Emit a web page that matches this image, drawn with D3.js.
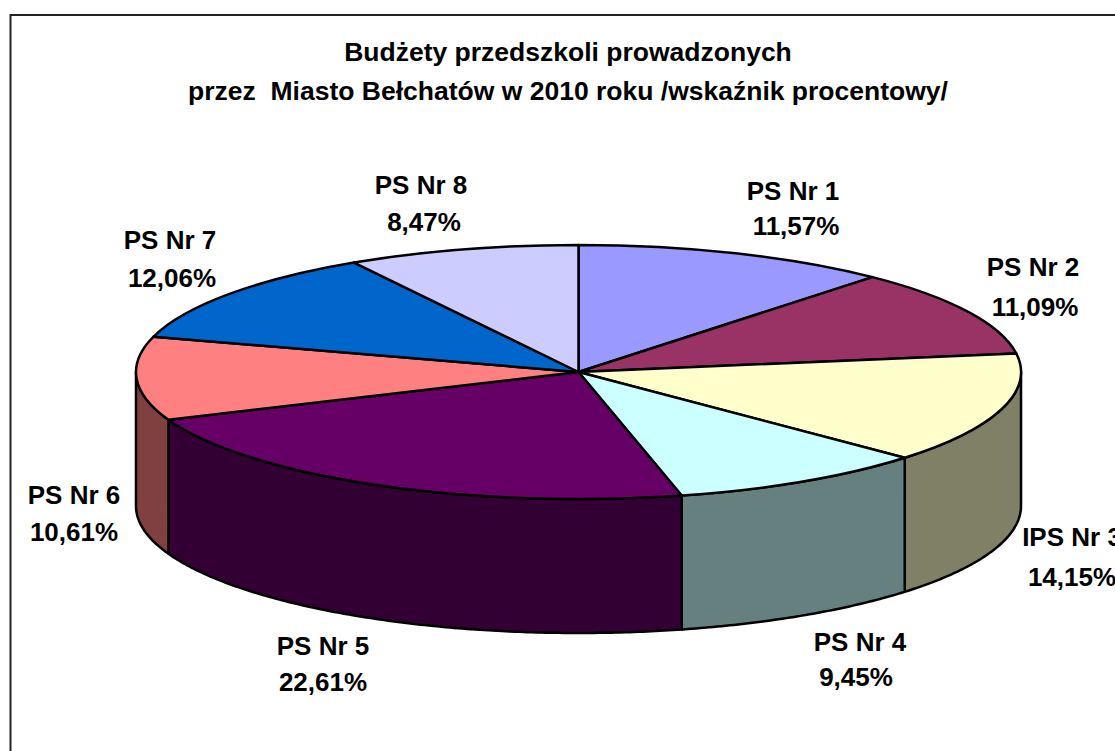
<!DOCTYPE html>
<html>
<head>
<meta charset="utf-8">
<script src="https://cdn.jsdelivr.net/npm/d3@7"></script>
<style>
  html, body { margin: 0; padding: 0; background: #fff; overflow: hidden; }
  svg { display: block; }
  text { font-family: "Liberation Sans", Arial, sans-serif; font-weight: bold; fill: #000; text-anchor: middle; }
</style>
</head>
<body>
<svg width="1115" height="751"></svg>
<script>
var titleLines = ['Budżety przedszkoli prowadzonych', 'przez  Miasto Bełchatów w 2010 roku /wskaźnik procentowy/'];
var categories = ['PS Nr 1', 'PS Nr 2', 'IPS Nr 3', 'PS Nr 4', 'PS Nr 5', 'PS Nr 6', 'PS Nr 7', 'PS Nr 8'];
var shares = [11.57, 11.09, 14.15, 9.45, 22.61, 10.61, 12.06, 8.47];
var percentLabels = ['11,57%', '11,09%', '14,15%', '9,45%', '22,61%', '10,61%', '12,06%', '8,47%'];
var topColors = ['#9999ff', '#993366', '#ffffcc', '#ccffff', '#660066', '#ff8080', '#0066cc', '#ccccff'];
var sideColors = ['#4d4d80', '#4d1a33', '#808066', '#668080', '#330033', '#804040', '#003366', '#666680'];

// label placement, [x, name y, x, percent y] baselines
var labelAnchors = [
  [793, 200, 796, 235],
  [1033, 276, 1035, 316],
  [1072, 546, 1072, 586],
  [860, 651, 856, 686],
  [323, 655, 323, 691],
  [74, 504, 74, 541],
  [170, 249, 172, 287],
  [421, 194, 424, 231]
];

var svg = d3.select('svg');

// page frame, only left and top edges are in the shot
svg.append('path')
  .attr('d', 'M10.5,751 V15 H1115')
  .attr('fill', 'none')
  .attr('stroke', '#222')
  .attr('stroke-width', 2);

var pie = d3.pie().sort(null).value(function(d) { return d; });
var slices = pie(shares);

// unit circle -> ellipse of the tilted pie
var xPos = d3.scaleLinear().domain([-1, 1]).range([136, 1021]);
var yPos = d3.scaleLinear().domain([-1, 1]).range([245, 499]);
var depth = 134;

var wall = d3.area()
  .x(function(a) { return xPos(Math.sin(a)); })
  .y0(function(a) { return yPos(-Math.cos(a)); })
  .y1(function(a) { return yPos(-Math.cos(a)) + depth; });

// front walls are only seen between 90 and 270 degrees
var front = [Math.PI / 2, Math.PI * 3 / 2];
svg.append('g').selectAll('path')
  .data(slices.filter(function(d) { return d.endAngle > front[0] && d.startAngle < front[1]; }))
  .enter().append('path')
  .attr('fill', function(d) { return sideColors[d.index]; })
  .attr('stroke', '#000')
  .attr('stroke-width', 2.5)
  .attr('stroke-linejoin', 'round')
  .attr('d', function(d) {
    var a0 = Math.max(d.startAngle, front[0]);
    var a1 = Math.min(d.endAngle, front[1]);
    var pts = d3.range(a0, a1, 0.01).concat([a1]);
    return wall(pts);
  });

// top face, drawn in a 100 unit circle and stretched
var arc = d3.arc().innerRadius(0).outerRadius(100);
var topFace = svg.append('g')
  .attr('transform', 'translate(' + [xPos(0), yPos(0)] + ')scale(' +
    [(xPos(1) - xPos(0)) / 100, (yPos(1) - yPos(0)) / 100] + ')');

topFace.selectAll('path')
  .data(slices).enter().append('path')
  .attr('d', arc)
  .attr('fill', function(d) { return topColors[d.index]; })
  .attr('stroke', '#000')
  .attr('stroke-width', 2.5)
  .attr('stroke-linejoin', 'round')
  .attr('vector-effect', 'non-scaling-stroke');

svg.append('g').selectAll('text')
  .data(titleLines).enter().append('text')
  .attr('x', 568)
  .attr('y', function(d, i) { return 61 + i * 39; })
  .attr('font-size', 26.5)
  .style('white-space', 'pre')
  .text(function(d) { return d; });

var labels = svg.append('g').selectAll('g')
  .data(categories).enter().append('g');

labels.append('text')
  .attr('x', function(d, i) { return labelAnchors[i][0]; })
  .attr('y', function(d, i) { return labelAnchors[i][1]; })
  .attr('font-size', 26)
  .text(function(d) { return d; });

labels.append('text')
  .attr('x', function(d, i) { return labelAnchors[i][2]; })
  .attr('y', function(d, i) { return labelAnchors[i][3]; })
  .attr('font-size', 26)
  .text(function(d, i) { return percentLabels[i]; });
</script>
</body>
</html>
